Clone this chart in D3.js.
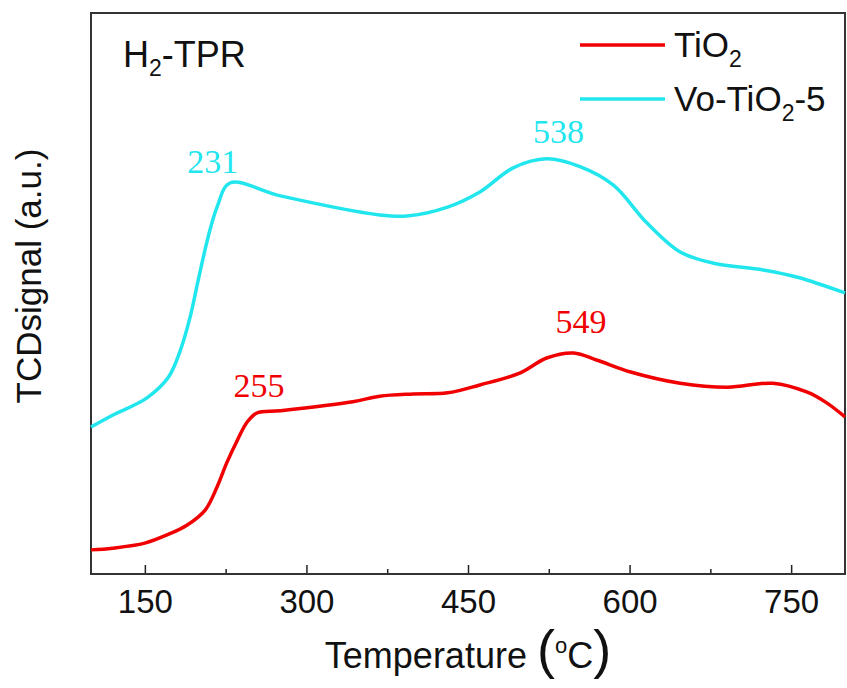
<!DOCTYPE html>
<html>
<head>
<meta charset="utf-8">
<script src="https://cdn.jsdelivr.net/npm/d3@7"></script>
<style>
  body { margin: 0; background: #fff; }
  text { font-family: Arial, 'Liberation Sans', sans-serif; }
  .peak { font-family: 'Times New Roman', 'Liberation Serif', serif; }
</style>
</head>
<body>
<div id="chart"></div>
<script>
// TiO2 trace (temperature in C, TCD signal in a.u.)
const tio2Temp = [100, 120, 150, 171, 189, 206, 217, 226, 236, 245, 254, 276, 343, 368, 399, 431, 461, 498, 523, 548, 570, 601, 647, 691, 733, 765, 783, 800];
const tio2Signal = [4.3, 4.6, 5.5, 7.0, 8.7, 11.4, 15.5, 19.8, 23.9, 27.1, 28.7, 29.1, 30.7, 31.7, 32.1, 32.3, 33.7, 35.8, 38.5, 39.4, 38.1, 36.0, 34.0, 33.3, 34.0, 32.4, 30.5, 28.0];

// Vo-TiO2-5 trace
const voTemp = [100, 120, 152, 172, 183, 192, 199, 208, 217, 229, 276, 368, 393, 431, 461, 492, 523, 554, 585, 616, 647, 678, 724, 756, 800];
const voSignal = [26.2, 28.3, 31.4, 35.1, 39.9, 45.8, 51.9, 59.5, 65.4, 69.7, 67.4, 64.0, 63.8, 65.4, 68.1, 72.4, 74.0, 72.6, 69.3, 62.6, 57.4, 55.4, 54.2, 52.9, 50.1];

// peak labels: text, where the label sits (temperature, signal)
const peakText = ['231', '538', '255', '549'];
const peakTemp = [213, 534, 256, 555];
const peakSignal = [71.5, 76.8, 31.6, 43.0];
const peakSeries = [1, 1, 0, 0];

const majorTicks = [150, 300, 450, 600, 750];
const minorTicks = [225, 375, 525, 675];

const colors = ['#f00000', '#22e6ee'];

const margin = { top: 13, right: 2, bottom: 114, left: 91 };
const W = 847, H = 688;
const width = W - margin.left - margin.right;
const height = H - margin.top - margin.bottom;

const svg = d3.select('#chart')
  .append('svg')
  .attr('width', W)
  .attr('height', H)
  .append('g')
  .attr('transform', `translate(${margin.left},${margin.top})`);

const x = d3.scaleLinear().domain([100, 800]).range([0, width]);
const y = d3.scaleLinear().domain([0, 100]).range([height, 0]);

// minor + major ticks pointing inward
svg.append('g')
  .attr('transform', `translate(0,${height})`)
  .call(d3.axisBottom(x).tickValues(minorTicks).tickSize(-5).tickFormat(''))
  .call(g => g.select('.domain').remove())
  .selectAll('line').attr('stroke', '#222').attr('stroke-width', 1.5);

const xAxis = svg.append('g')
  .attr('transform', `translate(0,${height})`)
  .call(d3.axisBottom(x).tickValues(majorTicks).tickSize(-9).tickPadding(18).tickFormat(d3.format('d')));
xAxis.select('.domain').remove();
xAxis.selectAll('line').attr('stroke', '#222').attr('stroke-width', 1.5);
xAxis.selectAll('text')
  .attr('fill', '#111')
  .style('font-size', '33px')
  .attr('dy', '0.71em')
  .attr('y', 16);

// frame
svg.append('rect')
  .attr('x', 0).attr('y', 0)
  .attr('width', width).attr('height', height)
  .attr('fill', 'none')
  .attr('stroke', '#333')
  .attr('stroke-width', 2);

const line = d3.line()
  .x(d => x(d[0]))
  .y(d => y(d[1]))
  .curve(d3.curveCatmullRom.alpha(0.5));

const series = [
  d3.zip(tio2Temp, tio2Signal),
  d3.zip(voTemp, voSignal)
];

svg.selectAll('.trace')
  .data(series)
  .enter()
  .append('path')
  .attr('class', 'trace')
  .attr('d', d => line(d))
  .attr('fill', 'none')
  .attr('stroke', (d, i) => colors[i])
  .attr('stroke-width', 3.5)
  .attr('stroke-linejoin', 'round');

// peak temperatures
svg.selectAll('.peak')
  .data(peakText)
  .enter()
  .append('text')
  .attr('class', 'peak')
  .attr('x', (d, i) => x(peakTemp[i]))
  .attr('y', (d, i) => y(peakSignal[i]))
  .attr('text-anchor', 'middle')
  .attr('fill', (d, i) => colors[peakSeries[i]])
  .style('font-size', '34px')
  .text(d => d);

// H2-TPR tag
const tag = svg.append('text')
  .attr('x', 123 - margin.left)
  .attr('y', 67 - margin.top)
  .attr('fill', '#111')
  .style('font-size', '36px');
tag.append('tspan').text('H');
tag.append('tspan').attr('dy', 9).style('font-size', '23px').text('2');
tag.append('tspan').attr('dy', -9).text('-TPR');

// legend
const legend = svg.append('g').attr('transform', `translate(${580 - margin.left},${45 - margin.top})`);
const legendNames = [['Ti', 'O', '2', ''], ['Vo-Ti', 'O', '2', '-5']];
legendNames.forEach((n, i) => {
  const gy = i * 54;
  legend.append('line')
    .attr('x1', 0).attr('x2', 85)
    .attr('y1', gy).attr('y2', gy)
    .attr('stroke', colors[i])
    .attr('stroke-width', 3.5);
  const t = legend.append('text')
    .attr('x', 94)
    .attr('y', gy + 12)
    .attr('fill', '#111')
    .style('font-size', '35px');
  t.append('tspan').text(n[0] + n[1]);
  t.append('tspan').attr('dy', 10).style('font-size', '23px').text(n[2]);
  if (n[3]) t.append('tspan').attr('dy', -10).text(n[3]);
});

// x-axis title
const xt = svg.append('text')
  .attr('x', width / 2)
  .attr('y', 668 - margin.top)
  .attr('text-anchor', 'middle')
  .attr('fill', '#111')
  .style('font-size', '36px');
xt.append('tspan').text('Temperature ');
xt.append('tspan').style('font-size', '54px').style('font-weight', '300').text('(');
xt.append('tspan').attr('dy', -15).style('font-size', '22px').text('o');
xt.append('tspan').attr('dy', 15).text('C');
xt.append('tspan').style('font-size', '54px').text(')');

// y-axis title
svg.append('text')
  .attr('transform', 'rotate(-90)')
  .attr('x', -(276 - margin.top))
  .attr('y', 41 - margin.left)
  .attr('text-anchor', 'middle')
  .attr('fill', '#111')
  .style('font-size', '35px')
  .text('TCDsignal (a.u.)');
</script>
</body>
</html>
